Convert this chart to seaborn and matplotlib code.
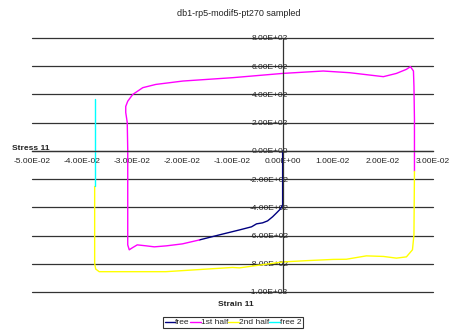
import numpy as np
import pandas as pd
import matplotlib
matplotlib.use("Agg")
import matplotlib.pyplot as plt
from matplotlib.ticker import FuncFormatter
import seaborn as sns

# Strain / stress paths of the sampled point, per loading phase
free_strain = [0.0, 0.0, 0.0, -0.0004, -0.0012, -0.0020, -0.0030, -0.0040, -0.0052,
               -0.0062, -0.0086, -0.0126, -0.0166]
free_stress = [0, -200, -382, -410, -439, -467, -496, -510, -517, -538, -560, -595, -631]

half1_strain = [-0.0166, -0.0200, -0.0232, -0.0256, -0.0272, -0.0290, -0.0300, -0.0306,
                -0.0309, -0.0309, -0.0309, -0.0310, -0.0313, -0.0313, -0.0309, -0.0299,
                -0.0279, -0.0253, -0.0199, -0.0099, 0.0000, 0.0081, 0.0134, 0.0201,
                0.0227, 0.0247, 0.0255, 0.0261, 0.0262, 0.0263, 0.0263]
half1_stress = [-631, -659, -673, -680, -673, -666, -687, -701, -666, -346, 9, 201, 272,
                315, 352, 400, 448, 471, 495, 519, 549, 566, 554, 526, 549, 578, 597, 566,
                459, 222, -145]

half2_strain = [0.0263, 0.0262, 0.0261, 0.0259, 0.0247, 0.0227, 0.0201, 0.0167, 0.0127,
                0.0101, 0.0047, 0.0000, -0.0086, -0.0100, -0.0233, -0.0366, -0.0373,
                -0.0375, -0.0375, -0.0375]
half2_stress = [-145, -595, -630, -701, -751, -760, -748, -744, -768, -769, -778, -787,
                -829, -826, -856, -856, -837, -796, -559, -252]

free2_strain = [-0.0375, -0.0375, -0.0375]
free2_stress = [-252, 9, 365]

series_names = ["free", "1st half", "2nd half", "free 2"]
series_colors = ["#000080", "#FF00FF", "#FFFF00", "#00FFFF"]

x_ticks = [-0.05, -0.04, -0.03, -0.02, -0.01, 0.0, 0.01, 0.02, 0.03]
y_ticks = [-1000, -800, -600, -400, -200, 0, 200, 400, 600, 800]

frames = []
for name, xs, ys in zip(series_names,
                        [free_strain, half1_strain, half2_strain, free2_strain],
                        [free_stress, half1_stress, half2_stress, free2_stress]):
    frames.append(pd.DataFrame({"strain": xs, "stress": ys, "series": name,
                                "order": np.arange(len(xs))}))
df = pd.concat(frames, ignore_index=True)

sns.set_style("white")
plt.rcParams["font.family"] = ["Liberation Sans", "DejaVu Sans"]

fig = plt.figure(figsize=(4.55, 3.31), dpi=100)
ax = fig.add_axes([32 / 455, 1 - 292 / 331, 401 / 455, 254 / 331])

sns.lineplot(data=df, x="strain", y="stress", hue="series", units="series",
             estimator=None, sort=False, palette=dict(zip(series_names, series_colors)),
             hue_order=series_names, linewidth=1.0, ax=ax, legend=False)

ax.set_xlim(-0.05, 0.03)
ax.set_ylim(-1000, 800)
ax.set_xticks(x_ticks)
ax.set_yticks(y_ticks)
fmt = FuncFormatter(lambda v, p: f"{v:.2E}")
ax.xaxis.set_major_formatter(fmt)
ax.yaxis.set_major_formatter(fmt)

# horizontal gridlines
ax.grid(False)
for yv in y_ticks:
    ax.axhline(yv, color="#333333", lw=0.9, zorder=0, clip_on=False)

# axes crossing at the origin
for s in ["top", "right"]:
    ax.spines[s].set_visible(False)
ax.spines["left"].set_position(("data", 0))
ax.spines["bottom"].set_position(("data", 0))
for s in ["left", "bottom"]:
    ax.spines[s].set_color("#333333")
    ax.spines[s].set_linewidth(0.9)
ax.set_zorder(1)

ax.tick_params(axis="x", direction="out", length=3, width=0.8, pad=2,
               labelsize=6, colors="#222222")
ax.tick_params(axis="y", length=0, pad=-4, labelsize=6, colors="#222222")
for lab in ax.get_yticklabels():
    lab.set_horizontalalignment("right")

ax.set_xlabel("")
ax.set_ylabel("")

fig.text(239 / 455, 1 - 14 / 331, "db1-rp5-modif5-pt270 sampled", ha="center",
         va="center", fontsize=6.5, color="#222222")
fig.text(12 / 455, 1 - 148 / 331, "Stress 11", ha="left", va="center",
         fontsize=6, fontweight="bold", color="#222222")
fig.text(236 / 455, 1 - 305 / 331, "Strain 11", ha="center", va="center",
         fontsize=6, fontweight="bold", color="#222222")

handles = [plt.Line2D([], [], color=c, lw=1.0) for c in series_colors]
leg = fig.legend(handles, series_names, loc="center", ncol=4,
                 bbox_to_anchor=(233 / 455, 1 - 322.5 / 331), fontsize=6,
                 frameon=True, fancybox=False, handlelength=1.3, handletextpad=0.0,
                 columnspacing=0.0, borderpad=0.15, borderaxespad=0)
leg.get_frame().set_edgecolor("black")
leg.get_frame().set_linewidth(0.8)

fig.savefig("out.png", dpi=100)
